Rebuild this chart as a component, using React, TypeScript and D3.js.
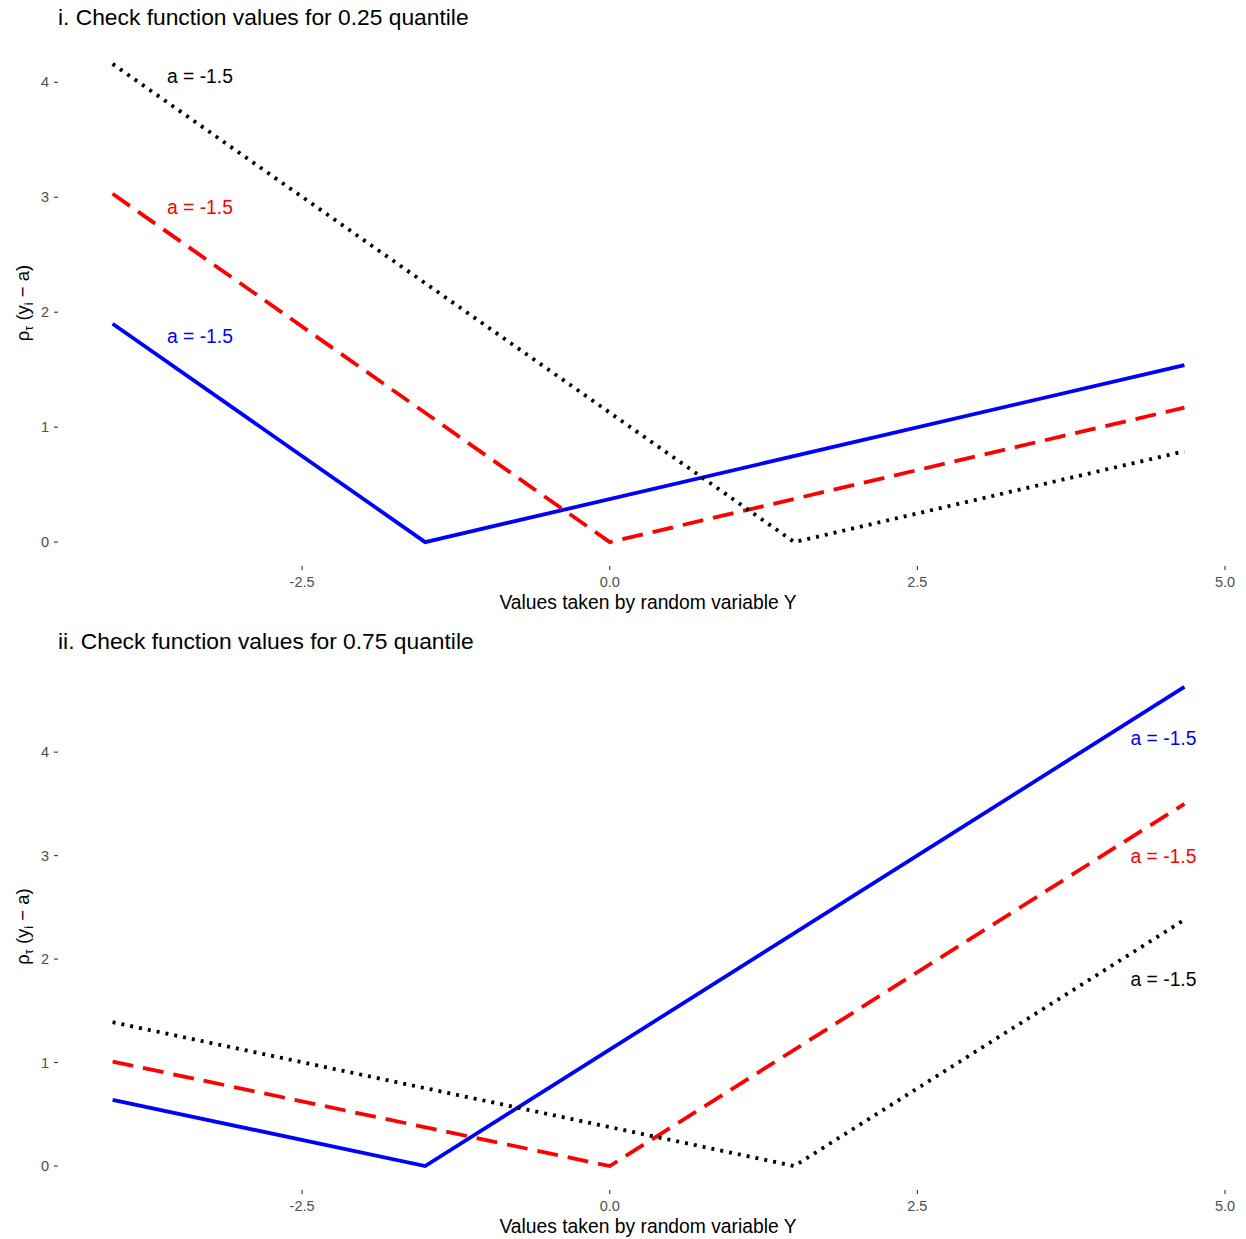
import React from "react";
import * as d3 from "d3";

// values of Y where each check-function line is sampled (left end, kink, right end)
const aValues = [-1.5, 0, 1.5];
const xLeft = -4.04;
const xRight = 4.67;

// panel i (tau = 0.25) heights
const q25Left = [1.9, 3.03, 4.16];
const q25Right = [1.54, 1.17, 0.79];
// panel ii (tau = 0.75)
const q75Left = [0.64, 1.01, 1.39];
const q75Right = [4.63, 3.5, 2.38];

const seriesColors = ["#0000ff", "#ff0000", "#000000"];
const seriesDash = ["none", "21,10", "3,6"];

const labelText = ["a = -1.5", "a = -1.5", "a = -1.5"];
const q25LabelX = [-3.33, -3.33, -3.33];
const q25LabelY = [1.79, 2.91, 4.05];
const q75LabelX = [4.5, 4.5, 4.5];
const q75LabelY = [4.13, 2.99, 1.8];

const xTicks = [-2.5, 0.0, 2.5, 5.0];
const yTicks = [0, 1, 2, 3, 4];

const titles = [
  "i. Check function values for 0.25 quantile",
  "ii. Check function values for 0.75 quantile",
];

const W = 1246;
const H = 1239;
const left = 59;
const right = 1238;

type PanelProps = {
  title: string;
  top: number;
  bottom: number;
  leftVals: number[];
  rightVals: number[];
  labX: number[];
  labY: number[];
  titleY: number;
};

function Panel({ title, top, bottom, leftVals, rightVals, labX, labY, titleY }: PanelProps) {
  const xExt = [xLeft, xRight];
  const xPad = (xExt[1] - xExt[0]) * 0.05;
  const x = d3.scaleLinear().domain([xExt[0] - xPad, xExt[1] + xPad]).range([left, right]);
  const yMax = d3.max(leftVals.concat(rightVals)) as number;
  const yPad = yMax * 0.05;
  const y = d3.scaleLinear().domain([-yPad, yMax + yPad]).range([bottom, top]);

  const line = d3
    .line<[number, number]>()
    .x((d) => x(d[0]))
    .y((d) => y(d[1]));

  const font = "Arial, 'Liberation Sans', sans-serif";
  const midY = (top + bottom) / 2;

  return (
    <g>
      <text x={58} y={titleY} fontSize={22.8} fontFamily={font} fill="#000">
        {title}
      </text>
      {yTicks.map((t) => (
        <g key={"y" + t}>
          <line x1={54} x2={58} y1={y(t)} y2={y(t)} stroke="#333" strokeWidth={1.1} />
          <text x={49} y={y(t) + 5} textAnchor="end" fontSize={14.5} fontFamily={font} fill="#4d4d4d">
            {t}
          </text>
        </g>
      ))}
      {xTicks.map((t) => (
        <g key={"x" + t}>
          <line x1={x(t)} x2={x(t)} y1={bottom} y2={bottom + 4} stroke="#333" strokeWidth={1.1} />
          <text x={x(t)} y={bottom + 21} textAnchor="middle" fontSize={14.5} fontFamily={font} fill="#4d4d4d">
            {t.toFixed(1)}
          </text>
        </g>
      ))}
      <text
        x={648}
        y={bottom + 43}
        textAnchor="middle"
        fontSize={19.3}
        fontFamily={font}
        fill="#000"
      >
        Values taken by random variable Y
      </text>
      <text
        transform={`translate(29,${midY}) rotate(-90)`}
        textAnchor="middle"
        fontSize={18.5}
        fontFamily={font}
        fill="#000"
      >
        ρ<tspan fontSize={12.5} dy={4}>τ</tspan>
        <tspan dy={-4}> (y</tspan>
        <tspan fontSize={12.5} dy={4}>i</tspan>
        <tspan dy={-4}> − a)</tspan>
      </text>
      {aValues.map((a, i) => (
        <path
          key={"l" + i}
          d={
            line([
              [xLeft, leftVals[i]],
              [a, 0],
              [xRight, rightVals[i]],
            ]) as string
          }
          fill="none"
          stroke={seriesColors[i]}
          strokeWidth={3.8}
          strokeDasharray={seriesDash[i]}
        />
      ))}
      {labelText.map((t, i) => (
        <text
          key={"t" + i}
          x={x(labX[i])}
          y={y(labY[i]) + 6.5}
          textAnchor="middle"
          fontSize={19.3}
          fontFamily={font}
          fill={seriesColors[i]}
        >
          {t}
        </text>
      ))}
    </g>
  );
}

export default function App() {
  return (
    <svg width={W} height={H} style={{ display: "block", position: "absolute", left: 0, top: 0 }}>
      <rect width={W} height={H} fill="#fff" />
      <Panel
        title={titles[0]}
        top={40}
        bottom={566}
        leftVals={q25Left}
        rightVals={q25Right}
        labX={q25LabelX}
        labY={q25LabelY}
        titleY={25}
      />
      <Panel
        title={titles[1]}
        top={663}
        bottom={1190}
        leftVals={q75Left}
        rightVals={q75Right}
        labX={q75LabelX}
        labY={q75LabelY}
        titleY={649}
      />
    </svg>
  );
}
